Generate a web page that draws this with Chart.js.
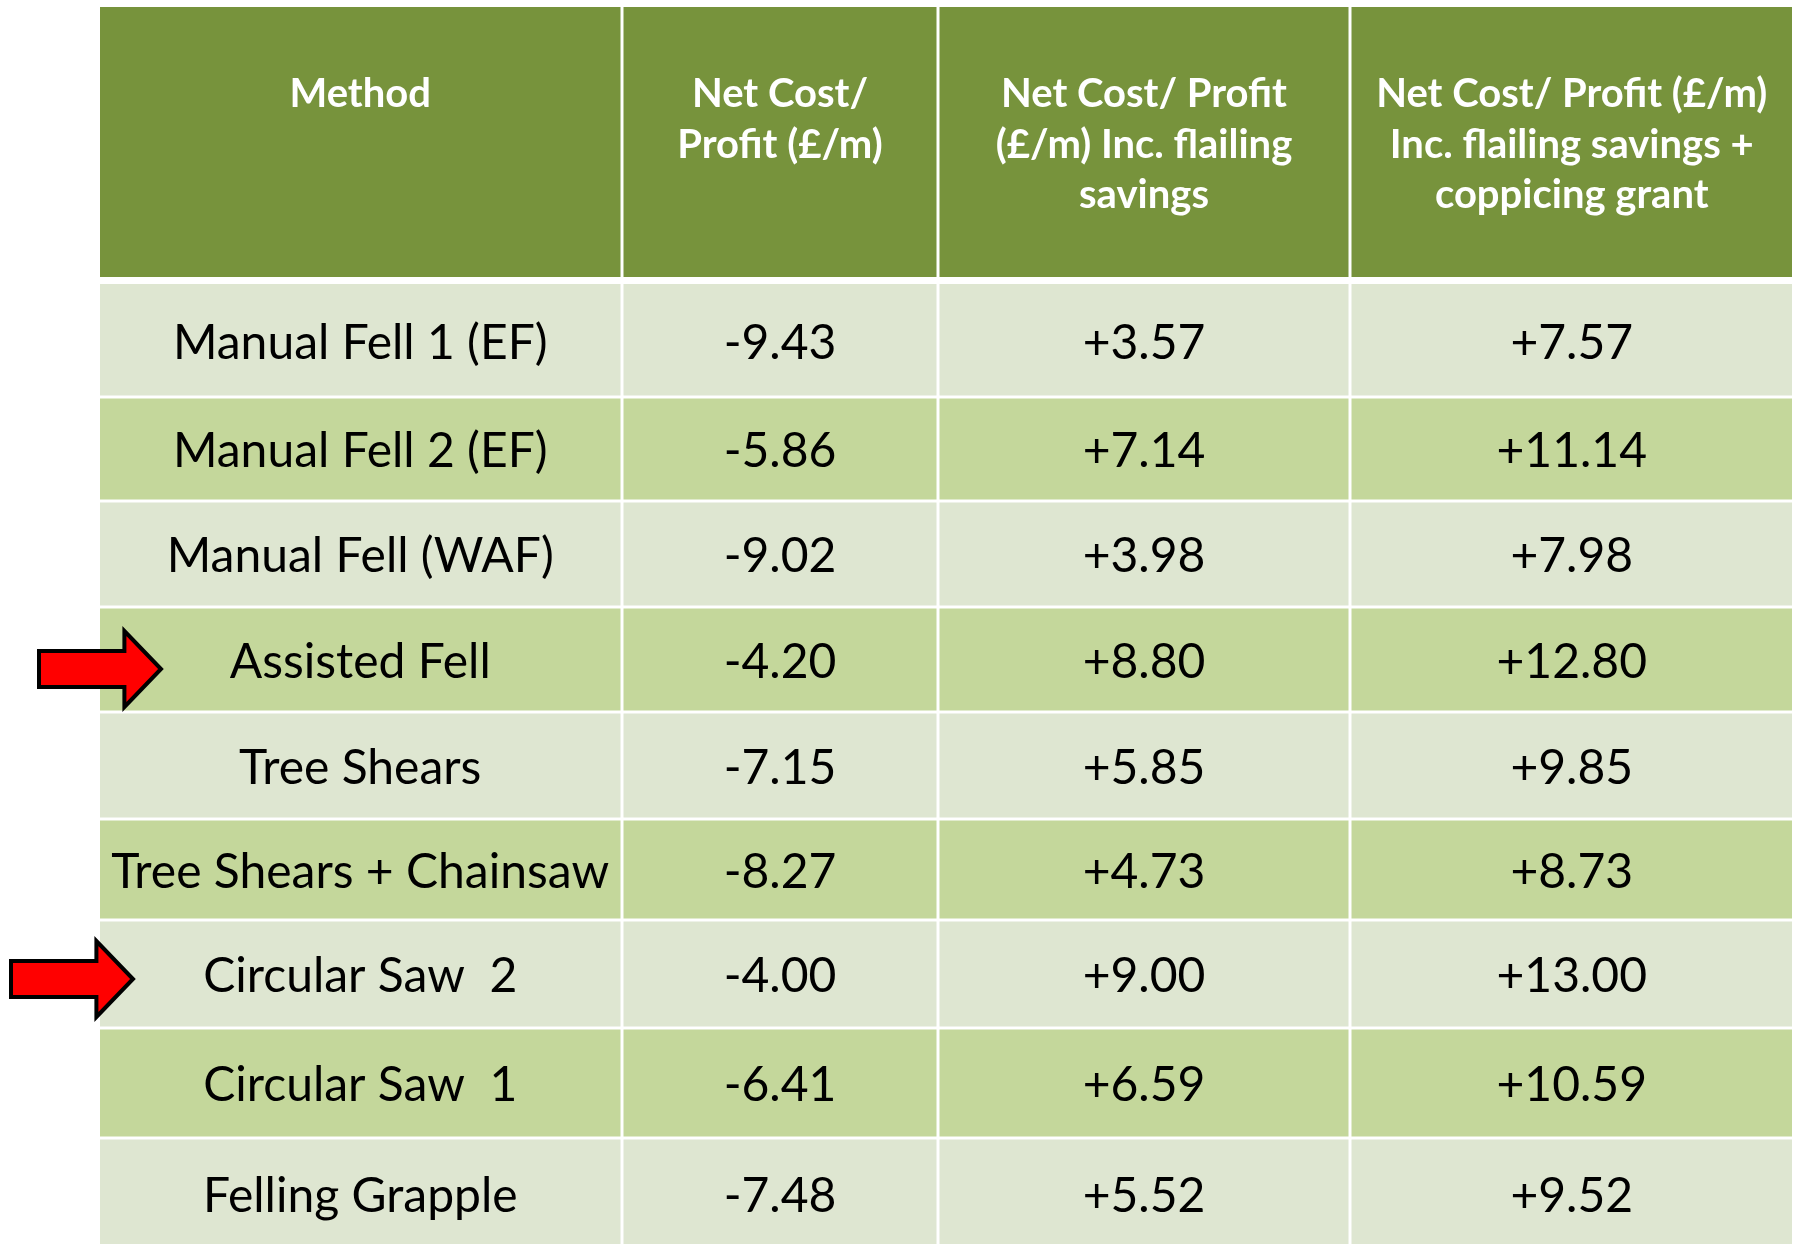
<!DOCTYPE html>
<html>
<head>
<meta charset="utf-8">
<script src="https://cdn.jsdelivr.net/npm/chart.js@4/dist/chart.umd.min.js"></script>
<style>
    html, body { margin: 0; padding: 0; background: #ffffff; }
    canvas { display: block; }
</style>
</head>
<body>
<canvas id="tabla" width="1798" height="1244"></canvas>
<script>
//Datos de la tabla
var encabezados = [
    ["Method"],
    ["Net Cost/", "Profit (£/m)"],
    ["Net Cost/ Profit", "(£/m) Inc. flailing", "savings"],
    ["Net Cost/ Profit (£/m)", "Inc. flailing savings +", "coppicing grant"]
];
var metodos = ["Manual Fell 1 (EF)", "Manual Fell 2 (EF)", "Manual Fell (WAF)", "Assisted Fell",
    "Tree Shears", "Tree Shears + Chainsaw", "Circular Saw  2", "Circular Saw  1", "Felling Grapple"];
var costeNeto = [-9.43, -5.86, -9.02, -4.20, -7.15, -8.27, -4.00, -6.41, -7.48];
var conDesbroce = [3.57, 7.14, 3.98, 8.80, 5.85, 4.73, 9.00, 6.59, 5.52];
var conSubvencion = [7.57, 11.14, 7.98, 12.80, 9.85, 8.73, 13.00, 10.59, 9.52];

//Disposición (en unidades de las escalas)
var bordesCol = [100, 622, 938, 1350, 1792];
var cabecera = [7, 277];
var bordesFila = [284, 397, 501, 607, 712, 819, 920, 1028, 1138, 1250];
var lineasCab = [107, 158, 208];
var flechas = [{x: 39, y: 669, largo: 122}, {x: 11, y: 979, largo: 122}];

var colores = {cabecera: "#77933c", clara: "#dee6d1", oscura: "#c4d79b", flecha: "#ff0000"};

//Formato con signo
function conSigno(valor)
{
    return (valor > 0 ? "+" : "") + valor.toFixed(2);
}

function filaTexto(i)
{
    return [metodos[i], conSigno(costeNeto[i]), conSigno(conDesbroce[i]), conSigno(conSubvencion[i])];
}

//Plugin que pinta las celdas usando las escalas del gráfico
var pluginTabla = {
    id: "tabla",
    beforeDatasetsDraw: function(chart) {
        var ctx = chart.ctx;
        var ex = chart.scales.x, ey = chart.scales.y;
        var px = function(v) { return ex.getPixelForValue(v); };
        var py = function(v) { return ey.getPixelForValue(v); };
        ctx.save();

        //cabecera
        for (let c = 0; c < encabezados.length; c++) {
            let x0 = px(bordesCol[c]) + (c > 0 ? 1.5 : 0);
            let x1 = px(bordesCol[c + 1]) - (c < encabezados.length - 1 ? 1.5 : 0);
            ctx.fillStyle = colores.cabecera;
            ctx.fillRect(x0, py(cabecera[0]), x1 - x0, py(cabecera[1]) - py(cabecera[0]));
            ctx.fillStyle = "#ffffff";
            ctx.font = "bold 40px Lato";
            ctx.textAlign = "center";
            ctx.textBaseline = "alphabetic";
            for (let l = 0; l < encabezados[c].length; l++) {
                ctx.fillText(encabezados[c][l], (x0 + x1) / 2, py(lineasCab[l]));
            }
        }

        //filas
        for (let f = 0; f < metodos.length; f++) {
            let y0 = py(bordesFila[f]) + (f > 0 ? 1.5 : 0);
            let y1 = py(bordesFila[f + 1]) - 1.5;
            let textos = filaTexto(f);
            for (let c = 0; c < textos.length; c++) {
                let x0 = px(bordesCol[c]) + (c > 0 ? 1.5 : 0);
                let x1 = px(bordesCol[c + 1]) - (c < textos.length - 1 ? 1.5 : 0);
                ctx.fillStyle = f % 2 == 0 ? colores.clara : colores.oscura;
                ctx.fillRect(x0, y0, x1 - x0, y1 - y0);
                ctx.fillStyle = "#000000";
                ctx.font = "48px Lato";
                ctx.textAlign = "center";
                ctx.textBaseline = "alphabetic";
                ctx.fillText(textos[c], (x0 + x1) / 2, (py(bordesFila[f]) + py(bordesFila[f + 1])) / 2 + 18);
            }
        }

        //flechas rojas
        for (let i = 0; i < flechas.length; i++) {
            let a = flechas[i];
            let xa = px(a.x), xb = px(a.x + a.largo * 0.70), xc = px(a.x + a.largo);
            let yc = py(a.y);
            ctx.beginPath();
            ctx.moveTo(xa, yc - 18);
            ctx.lineTo(xb, yc - 18);
            ctx.lineTo(xb, yc - 38);
            ctx.lineTo(xc, yc);
            ctx.lineTo(xb, yc + 38);
            ctx.lineTo(xb, yc + 18);
            ctx.lineTo(xa, yc + 18);
            ctx.closePath();
            ctx.fillStyle = colores.flecha;
            ctx.fill();
            ctx.lineWidth = 4;
            ctx.lineJoin = "miter";
            ctx.strokeStyle = "#000000";
            ctx.stroke();
        }
        ctx.restore();
    }
};

//puntos (invisibles) en el centro de cada fila, solo para que las escalas tengan datos
var puntos = metodos.map(function(m, i) {
    return {x: (bordesCol[0] + bordesCol[1]) / 2, y: (bordesFila[i] + bordesFila[i + 1]) / 2};
});

var grafico = new Chart(document.getElementById("tabla"), {
    type: "scatter",
    data: {
        datasets: [{
            label: "Method",
            data: puntos,
            pointRadius: 0
        }]
    },
    options: {
        responsive: false,
        animation: false,
        devicePixelRatio: 1,
        layout: { padding: 0 },
        plugins: {
            legend: { display: false },
            tooltip: { enabled: false }
        },
        scales: {
            x: { type: "linear", min: 0, max: 1798, display: false },
            y: { type: "linear", min: 0, max: 1244, reverse: true, display: false }
        }
    },
    plugins: [pluginTabla]
});
</script>
</body>
</html>
